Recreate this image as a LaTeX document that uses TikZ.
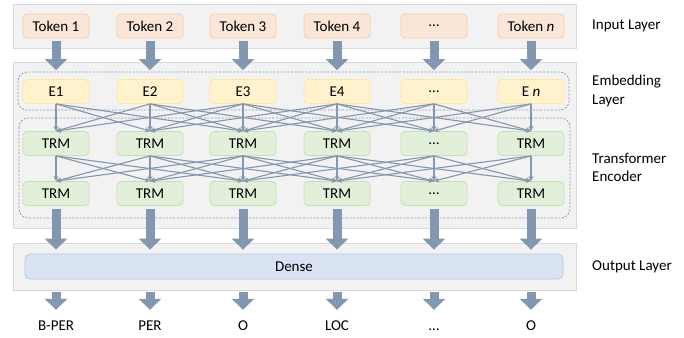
\documentclass[tikz,border=0pt]{standalone}
\usepackage{fontspec}
\setmainfont{Carlito}
\usetikzlibrary{arrows.meta}
\definecolor{arr}{HTML}{8497B0}
\definecolor{lgray}{HTML}{F2F2F2}
\definecolor{bgray}{HTML}{D9D9D9}
\definecolor{dgray}{HTML}{8C96A5}
\definecolor{tokf}{HTML}{FBE5D6}
\definecolor{tokd}{HTML}{F8CBAD}
\definecolor{embf}{HTML}{FFF2CC}
\definecolor{embd}{HTML}{FFE699}
\definecolor{trmf}{HTML}{E2F0D9}
\definecolor{trmd}{HTML}{C5E0B4}
\definecolor{denf}{HTML}{DAE3F3}
\definecolor{dend}{HTML}{B4C7E7}
\tikzset{
  layerbox/.style={fill=lgray, draw=bgray, line width=0.8pt},
  cell/.style={rounded corners=4pt, minimum width=66pt, minimum height=24pt, inner sep=0pt, line width=0.8pt},
  tok/.style={cell, fill=tokf, draw=tokd},
  emb/.style={cell, fill=embf, draw=embd},
  trm/.style={cell, fill=trmf, draw=trmd},
  densebox/.style={rounded corners=5pt, fill=denf, draw=dend, line width=0.8pt, minimum width=538pt, minimum height=25pt, inner sep=0pt},
  dbox/.style={draw=dgray, dash pattern=on 2pt off 1.6pt, rounded corners=9pt, line width=0.7pt},
  blk/.style={arr, line width=9pt, -{Triangle[width=22pt,length=11pt]}},
  con/.style={arr, line width=1.1pt, -{Stealth[length=5pt,width=5pt]}},
  outlab/.style={inner sep=0pt, text height=10pt, text depth=0pt},
  sidelab/.style={anchor=west, align=left, inner sep=0pt}
}
\begin{document}
\begin{tikzpicture}[x=1pt,y=-1pt, font=\fontsize{15}{18}\selectfont]
\useasboundingbox (0,0) rectangle (684,337);
% layer backgrounds
\fill[white] (0,0) rectangle (684,337);
\draw[layerbox] (13,4) rectangle (576,48);
\draw[layerbox] (13,62) rectangle (576,228);
\draw[layerbox] (13,243) rectangle (576,290);
% dashed groups
\draw[dbox] (18,72) rectangle (569,110);
\draw[dbox] (19,118) rectangle (570,218);
% nodes
\def\xs{{56,150,243,337,434,531}}
\node[tok] (t1) at (56,26) {Token 1};
\node[tok] (t2) at (150,26) {Token 2};
\node[tok] (t3) at (243,26) {Token 3};
\node[tok] (t4) at (337,26) {Token 4};
\node[tok] (t5) at (434,26) {…};
\node[tok] (t6) at (531,26) {Token \textit{n}};
\node[emb] (e1) at (56,91.5) {E1};
\node[emb] (e2) at (150,91.5) {E2};
\node[emb] (e3) at (243,91.5) {E3};
\node[emb] (e4) at (337,91.5) {E4};
\node[emb] (e5) at (434,91.5) {…};
\node[emb] (e6) at (531,91.5) {E \textit{n}};
\node[trm] (a1) at (56,143.5) {TRM};
\node[trm] (a2) at (150,143.5) {TRM};
\node[trm] (a3) at (243,143.5) {TRM};
\node[trm] (a4) at (337,143.5) {TRM};
\node[trm] (a5) at (434,143.5) {…};
\node[trm] (a6) at (531,143.5) {TRM};
\node[trm] (b1) at (56,193.5) {TRM};
\node[trm] (b2) at (150,193.5) {TRM};
\node[trm] (b3) at (243,193.5) {TRM};
\node[trm] (b4) at (337,193.5) {TRM};
\node[trm] (b5) at (434,193.5) {…};
\node[trm] (b6) at (531,193.5) {TRM};
\node[densebox] (dense) at (294,266.5) {Dense};
\node[outlab] (o1) at (56,325) {B-PER};
\node[outlab] (o2) at (150,325) {PER};
\node[outlab] (o3) at (243,325) {O};
\node[outlab] (o4) at (337,325) {LOC};
\node[outlab] (o5) at (434,325) {…};
\node[outlab] (o6) at (531,325) {O};
% side labels
\node[sidelab] (l1) at (592,26) {Input Layer};
\node[sidelab] (l2) at (592,91) {Embedding\\Layer};
\node[sidelab] (l3) at (592,167) {Transformer\\Encoder};
\node[sidelab] (l4) at (592,267) {Output Layer};
% connectors
\foreach \i in {1,...,6}{
  \foreach \j in {1,...,6}{
    \pgfmathtruncatemacro\d{abs(\i-\j)}
    \ifnum\d<3
      \draw[con] (e\i.south) -- (a\j.north);
      \draw[con] (a\i.south) -- (b\j.north);
    \fi
  }
}
\foreach \i in {1,...,6}{
  \draw[blk, shorten <=3pt, shorten >=9pt] (t\i.south) -- (e\i.north);
  \draw[blk, shorten <=3pt, shorten >=4pt] (b\i.south) -- (b\i |- dense.north);
  \draw[blk, shorten <=13pt, shorten >=10pt] (o\i |- dense.south) -- (o\i.north);
}
\end{tikzpicture}
\end{document}
